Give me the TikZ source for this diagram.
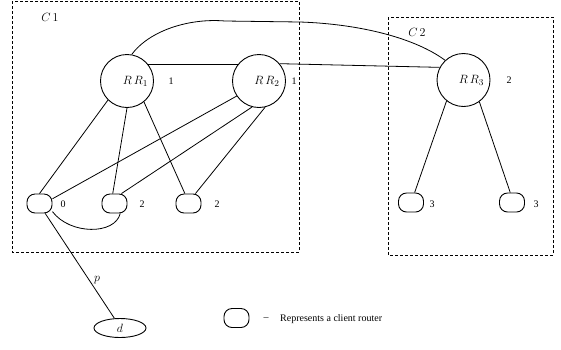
\documentclass[tikz,border=0pt]{standalone}
\usepackage{fontspec}
\setmainfont{Liberation Serif}
\usetikzlibrary{shapes.geometric}
\tikzset{
  rr/.style={draw, circle, minimum size=53pt, inner sep=0pt, line width=0.9pt},
  client/.style={draw, rectangle, rounded corners=8pt, minimum width=25pt, minimum height=19pt, inner sep=0pt, line width=0.9pt},
  cluster/.style={draw, dash pattern=on 3pt off 2pt, line width=0.8pt},
  edge/.style={line width=0.8pt},
  mlab/.style={inner sep=0pt, font=\fontsize{13}{15}\selectfont},
  num/.style={inner sep=0pt, font=\fontsize{10}{12}\selectfont},
}
\begin{document}
\begin{tikzpicture}[x=1pt,y=-1pt]
\useasboundingbox (0,0) rectangle (561,349);
% clusters
\draw[cluster] (12,1) rectangle (299,252);
\draw[cluster] (388,17) rectangle (553,255);
\node[mlab] (C1l) at (50,17) {$C\,1$};
\node[mlab] (C2l) at (417,32) {$C\,2$};
% route reflectors
\node[rr] (RR1) at (127,81) {};
\node[rr] (RR2) at (259,81) {};
\node[rr] (RR3) at (463.5,80) {};
\node[mlab] (RR1l) at (135.5,81.5) {$R\,R_1$};
\node[mlab] (RR2l) at (267,81.5) {$R\,R_2$};
\node[mlab] (RR3l) at (471.5,80.5) {$R\,R_3$};
\node[num] (n1) at (171,81) {1};
\node[num] (n2) at (294,81) {1};
\node[num] (n3) at (509,80) {2};
% clients
\node[client] (c0) at (39.5,203.5) {};
\node[client] (c1) at (114.5,203.5) {};
\node[client] (c2) at (188.5,203.5) {};
\node[client] (c3) at (411,202.5) {};
\node[client] (c4) at (512,202.5) {};
\node[num] (l0) at (63,204) {0};
\node[num] (l1) at (142,204) {2};
\node[num] (l2) at (217,204) {2};
\node[num] (l3) at (432,204) {3};
\node[num] (l4) at (536,204) {3};
% destination
\node[draw, ellipse, minimum width=52pt, minimum height=19pt, inner sep=0pt, line width=0.9pt] (d) at (120,328) {};
\node[mlab] (dl) at (120,328) {$d$};
\node[mlab] (pl) at (97,280) {$p$};
% edges
\draw[edge] (RR1.225) -- (c0.north);
\draw[edge] (RR1.270) -- (c1.100);
\draw[edge] (RR1.-51) -- (c2.110);
\draw[edge] (RR2.214) -- (c0.20);
\draw[edge] (RR2.255) -- (c1.55);
\draw[edge] (RR2.-77) -- (c2.55);
\draw[edge] (RR3.231) -- (c3.70);
\draw[edge] (RR3.-54) -- (c4.100);
\draw[edge] (RR1.39) -- (RR2.141);
\draw[edge] (RR2.40) -- (RR3.152);
\draw[edge] (RR1.80) .. controls (150,30) and (190,18) .. (225,21) -- (300,22) .. controls (360,24) and (415,38) .. (RR3.133);
\draw[edge] (c0.-32) .. controls (70,235) and (115,235) .. (c1.-60);
\draw[edge] (c0.-60) -- (d.120);
% legend
\node[client] (lg) at (236.5,318) {};
\node[num] (dash) at (266,319) {--};
\node[num, anchor=west] (lgt) at (280,319) {Represents a client router};
\end{tikzpicture}
\end{document}
